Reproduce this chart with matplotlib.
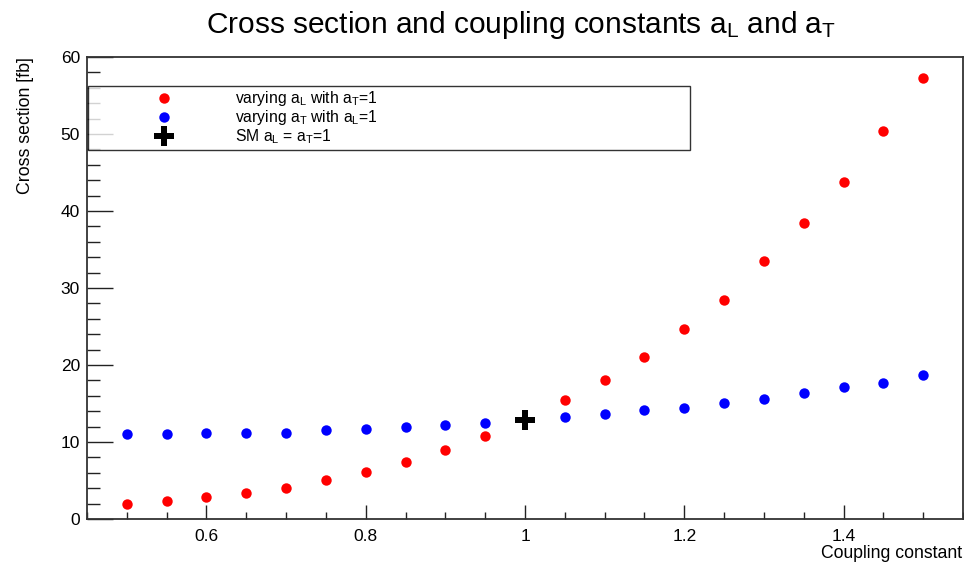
import matplotlib
matplotlib.use('Agg')
from matplotlib import pyplot as plt
from matplotlib.ticker import MultipleLocator, FormatStrFormatter

# coupling constant values
coupling = [0.5, 0.55, 0.6, 0.65, 0.7, 0.75, 0.8, 0.85, 0.9, 0.95,
            1.05, 1.1, 1.15, 1.2, 1.25, 1.3, 1.35, 1.4, 1.45, 1.5]
# varying a_L with a_T = 1
xsec_aL = [1.95, 2.3, 2.85, 3.4, 4.05, 5.1, 6.1, 7.4, 9.0, 10.8,
           15.4, 18.0, 21.1, 24.7, 28.4, 33.5, 38.4, 43.75, 50.4, 57.3]
# varying a_T with a_L = 1
xsec_aT = [11.1, 11.1, 11.2, 11.2, 11.2, 11.5, 11.7, 12.0, 12.2, 12.5,
           13.3, 13.7, 14.1, 14.45, 15.1, 15.6, 16.3, 17.1, 17.6, 18.75]
# standard model point
sm_x = [1.0]
sm_y = [12.8]

plt.rcParams['font.family'] = ['Liberation Sans', 'DejaVu Sans']
plt.rcParams['mathtext.default'] = 'regular'

fig = plt.figure(figsize=(9.64, 5.63), dpi=100)
ax = fig.add_axes([87 / 964, 1 - 519 / 563, 876 / 964, 462 / 563])

ax.plot(coupling, xsec_aL, 'o', color='#ff0000', ms=7.5, mew=0,
        label='varying a$_L$ with a$_T$=1')
ax.plot(coupling, xsec_aT, 'o', color='#0000ff', ms=7.5, mew=0,
        label='varying a$_T$ with a$_L$=1')
ax.plot(sm_x, sm_y, 'P', color='black', ms=14, mew=0,
        label='SM a$_L$ = a$_T$=1')

ax.set_xlim(0.45, 1.55)
ax.set_ylim(0, 60)

ax.xaxis.set_major_locator(MultipleLocator(0.2))
ax.xaxis.set_minor_locator(MultipleLocator(0.05))
ax.xaxis.set_major_formatter(FormatStrFormatter('%g'))
ax.yaxis.set_major_locator(MultipleLocator(10))
ax.yaxis.set_minor_locator(MultipleLocator(2))

ax.tick_params(axis='both', which='both', direction='in', width=1,
               color='#222222', top=False, right=False, labelsize=12.5)
ax.tick_params(axis='y', which='major', length=18.5, pad=5)
ax.tick_params(axis='y', which='minor', length=9.4)
ax.tick_params(axis='x', which='major', length=10, pad=7)
ax.tick_params(axis='x', which='minor', length=5)

for sp in ax.spines.values():
    sp.set_linewidth(1.3)
    sp.set_color('#333333')

fig.text(521 / 964, 1 - 25 / 563,
         'Cross section and coupling constants a$_L$ and a$_T$',
         ha='center', va='center', fontsize=21.5)
fig.text(962 / 964, 1 - 554 / 563, 'Coupling constant',
         ha='right', va='center', fontsize=12.7)
fig.text(25 / 964, 1 - 57 / 563, 'Cross section [fb]',
         rotation=90, ha='center', va='top', fontsize=12.8)

leg = ax.legend(loc='upper left',
                bbox_to_anchor=(88 / 964, 1 - 86 / 563, 602 / 964, 0.0001),
                bbox_transform=fig.transFigure, mode='expand',
                borderaxespad=0, borderpad=0.2, fontsize=11.3,
                handlelength=9.3, handletextpad=-0.15, labelspacing=0.02,
                fancybox=False, frameon=True, markerscale=1.0)
leg.get_frame().set_edgecolor('black')
leg.get_frame().set_linewidth(1.0)

plt.savefig('out.png', dpi=100)
